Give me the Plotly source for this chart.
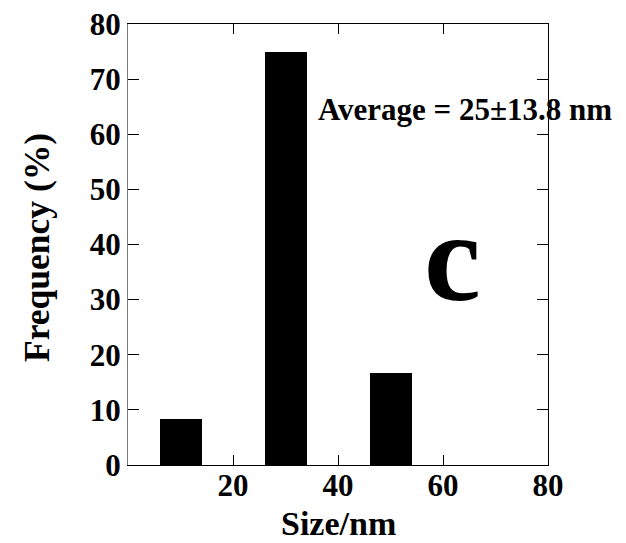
import plotly.graph_objects as go

sizes = [10, 30, 50]
freq = [8.33, 75.0, 16.67]
xticks = [20, 40, 60, 80]
yticks = [0, 10, 20, 30, 40, 50, 60, 70, 80]

FONT = "Liberation Serif"
tickfont = dict(family=FONT, size=31, color="black", weight="bold")

fig = go.Figure()
fig.add_trace(go.Bar(x=sizes, y=freq, width=8, marker=dict(color="black", line=dict(width=0)),
                     showlegend=False))
fig.add_trace(go.Scatter(x=[0], y=[0], yaxis="y2", mode="markers", marker=dict(opacity=0),
                         showlegend=False, hoverinfo="skip"))

fig.update_layout(
    width=626, height=543,
    margin=dict(l=128, r=78, t=24, b=78, autoexpand=False),
    plot_bgcolor="white", paper_bgcolor="white",
    bargap=0,
    xaxis=dict(range=[0, 80], tickvals=xticks, ticks="inside", ticklen=10, tickwidth=1,
               tickcolor="black", showline=True, linecolor="black", linewidth=1,
               mirror="ticks", showgrid=False, zeroline=False, tickfont=tickfont,
               ticklabelstandoff=-7, automargin=False),
    yaxis=dict(range=[0, 80], tickvals=yticks, ticks="inside", ticklen=11, tickwidth=1,
               tickcolor="black", showline=True, linecolor="#7a7a7a", linewidth=1,
               showgrid=False, zeroline=False, tickfont=tickfont, automargin=False),
    yaxis2=dict(range=[0, 80], tickvals=yticks, ticks="inside", ticklen=11, tickwidth=1,
                tickcolor="black", showline=True, linecolor="black", linewidth=1,
                overlaying="y", side="right", showticklabels=False, showgrid=False,
                zeroline=False, automargin=False),
    annotations=[
        dict(x=-0.217, y=0.494, xref="paper", yref="paper", text="Frequency (%)",
             textangle=-90, showarrow=False, xanchor="center", yanchor="middle",
             font=dict(family=FONT, size=35.5, color="black", weight="bold")),
        dict(x=0.5, y=-0.132, xref="paper", yref="paper", text="Size/nm",
             showarrow=False, xanchor="center", yanchor="middle",
             font=dict(family=FONT, size=34, color="black", weight="bold")),
        dict(x=35.8, y=64.5, xref="x", yref="y", text="Average = 25±13.8 nm", showarrow=False,
             xanchor="left", yanchor="middle",
             font=dict(family=FONT, size=31, color="black", weight="bold")),
        dict(x=61.9, y=37.7, xref="x", yref="y", text="c", showarrow=False,
             xanchor="center", yanchor="middle",
             font=dict(family=FONT, size=128, color="black", weight="bold")),
    ],
)

fig.write_html("out.html")
